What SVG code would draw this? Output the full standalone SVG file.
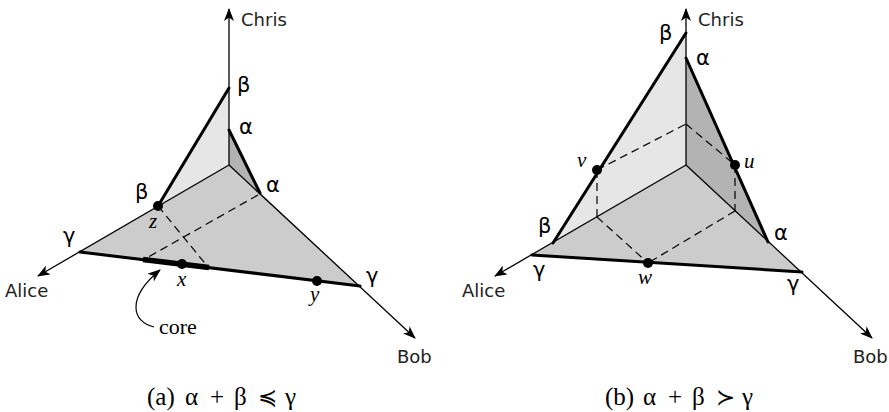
<svg xmlns="http://www.w3.org/2000/svg" width="889" height="412" viewBox="0 0 889 412">
<style>
.ax{stroke:#000;stroke-width:1.3;fill:none}
.thin{stroke:#000;stroke-width:1.2;fill:none}
.thick{stroke:#000;stroke-width:3;fill:none;stroke-linecap:round}
.dash{stroke:#000;stroke-width:1.2;fill:none;stroke-dasharray:8 5}
.lt{fill:#e6e6e6}
.md{fill:#cccccc}
.dk{fill:#b3b3b3}
.g{font-size:21px;fill:#000}
.it{font-style:italic;font-size:21px;fill:#000}
.nm{font-size:18px;fill:#222}
.cap{font-size:25px;fill:#000}
.core{font-size:22px;fill:#000}
.dot{fill:#000}
</style>
<defs>
<marker id="ah" viewBox="0 0 13 10" refX="12" refY="5" markerWidth="13" markerHeight="10" markerUnits="userSpaceOnUse" orient="auto">
<path d="M0,0 L13,5 L0,10 L3.5,5 z" fill="#000"/>
</marker>
</defs>

<!-- Diagram (a) -->
<g id="a-planes">
<polygon class="md" points="80,252 158,206 229,165 260,193 360,286"/>
<polygon class="lt" points="229,88 229,165 158,206"/>
<polygon class="dk" points="229,130 229,165 260,193"/>
</g>
<g id="a-connectors">
<line class="ax" x1="229" y1="165" x2="229" y2="9" marker-end="url(#ah)"/>
<line class="ax" x1="229" y1="165" x2="38" y2="276" marker-end="url(#ah)"/>
<line class="ax" x1="229" y1="165" x2="415" y2="338" marker-end="url(#ah)"/>
<line class="thick" x1="158" y1="206" x2="229" y2="88"/>
<line class="thick" x1="229" y1="130" x2="260" y2="193"/>
<line class="thick" x1="80" y1="252" x2="360" y2="286"/>
<line stroke="#000" stroke-width="5.5" x1="143" y1="259.6" x2="209" y2="267.6"/>
<line class="dash" x1="158" y1="206" x2="208" y2="267"/>
<line class="dash" x1="258" y1="195" x2="143" y2="260"/>
<path class="thin" d="M154,327 C132,322 126,298 160,270" marker-end="url(#ah)"/>
</g>
<g id="a-z"><circle class="dot" cx="158" cy="206" r="5"/><text class="it" font-family="Liberation Serif, serif" x="149" y="228">z</text></g>
<g id="a-x"><circle class="dot" cx="182" cy="264" r="5"/><text class="it" font-family="Liberation Serif, serif" x="177" y="286">x</text></g>
<g id="a-y"><circle class="dot" cx="317" cy="281" r="5"/><text class="it" font-family="Liberation Serif, serif" x="310" y="301">y</text></g>
<g id="a-labels" font-family="DejaVu Sans, sans-serif">
<text class="nm" x="241" y="26">Chris</text>
<text class="nm" x="5" y="297">Alice</text>
<text class="nm" x="397" y="363">Bob</text>
<text class="g" x="237" y="92">β</text>
<text class="g" x="239" y="134">α</text>
<text class="g" x="266" y="192">α</text>
<text class="g" x="135" y="199">β</text>
<text class="g" x="63" y="243">γ</text>
<text class="g" x="366" y="283">γ</text>
<text class="core" font-family="Liberation Serif, serif" x="159" y="334">core</text>
<text class="cap" font-family="Liberation Serif, DejaVu Serif, serif" y="405"><tspan x="147">(a)</tspan><tspan x="185">α</tspan><tspan x="210">+</tspan><tspan x="234">β</tspan><tspan x="258" font-family="DejaVu Serif, serif" font-size="23">≼</tspan><tspan x="285">γ</tspan></text>
</g>

<!-- Diagram (b) -->
<g id="b-planes">
<polygon class="md" points="532,255 553,243 686,165 768,242 802,272"/>
<polygon class="lt" points="686,33 686,165 553,243"/>
<polygon class="dk" points="686,58 686,165 768,242"/>
</g>
<g id="b-connectors">
<line class="ax" x1="686" y1="165" x2="686" y2="9" marker-end="url(#ah)"/>
<line class="ax" x1="686" y1="165" x2="495" y2="276" marker-end="url(#ah)"/>
<line class="ax" x1="686" y1="165" x2="872" y2="338" marker-end="url(#ah)"/>
<line class="thick" x1="553" y1="243" x2="686" y2="33"/>
<line class="thick" x1="686" y1="58" x2="768" y2="242"/>
<line class="thick" x1="532" y1="255" x2="802" y2="272"/>
<line class="dash" x1="597" y1="170" x2="686" y2="124"/>
<line class="dash" x1="686" y1="124" x2="735" y2="165"/>
<line class="dash" x1="597" y1="170" x2="597" y2="217"/>
<line class="dash" x1="597" y1="217" x2="648" y2="263"/>
<line class="dash" x1="735" y1="165" x2="735" y2="211"/>
<line class="dash" x1="735" y1="211" x2="648" y2="263"/>
</g>
<g id="b-v"><circle class="dot" cx="597" cy="170" r="5"/><text class="it" font-family="Liberation Serif, serif" x="577" y="167">v</text></g>
<g id="b-u"><circle class="dot" cx="735" cy="165" r="5"/><text class="it" font-family="Liberation Serif, serif" x="744" y="168">u</text></g>
<g id="b-w"><circle class="dot" cx="648" cy="263" r="5"/><text class="it" font-family="Liberation Serif, serif" x="638" y="284">w</text></g>
<g id="b-labels" font-family="DejaVu Sans, sans-serif">
<text class="nm" x="698" y="26">Chris</text>
<text class="nm" x="462" y="297">Alice</text>
<text class="nm" x="853" y="363">Bob</text>
<text class="g" x="659" y="40">β</text>
<text class="g" x="696" y="65">α</text>
<text class="g" x="538" y="233">β</text>
<text class="g" x="533" y="277">γ</text>
<text class="g" x="774" y="240">α</text>
<text class="g" x="787" y="291">γ</text>
<text class="cap" font-family="Liberation Serif, DejaVu Serif, serif" y="405"><tspan x="605">(b)</tspan><tspan x="643">α</tspan><tspan x="668">+</tspan><tspan x="692">β</tspan><tspan x="716" font-family="DejaVu Serif, serif" font-size="23">≻</tspan><tspan x="742">γ</tspan></text>
</g>
</svg>
